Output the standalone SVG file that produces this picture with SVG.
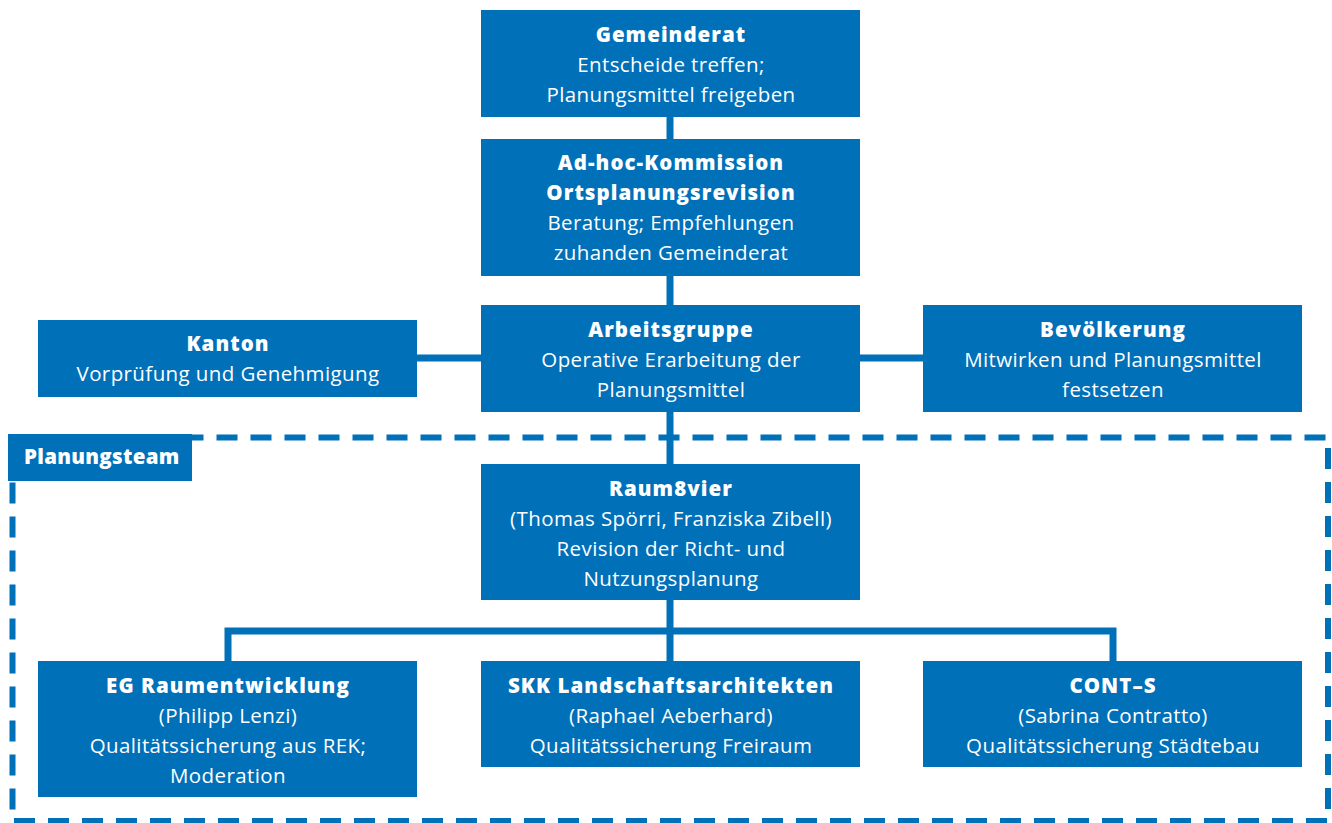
<svg xmlns="http://www.w3.org/2000/svg" width="1332" height="823" viewBox="0 0 1332 823">
  <style>
    .box { fill: #0070B9; }
    .t { fill: #FFFFFF; font-family: "Open Sans", Lato, "Liberation Sans", sans-serif; font-size: 20.5px; letter-spacing: 0.4px; text-anchor: middle; }
    .h { font-weight: 800; letter-spacing: 1.05px; }
    .link { fill: none; stroke: #0070B9; stroke-width: 7; stroke-linejoin: miter; stroke-linecap: butt; }
    .team { fill: none; stroke: #0070B9; stroke-width: 6; stroke-dasharray: 21 13; }
  </style>
  <rect width="1332" height="823" fill="#FFFFFF"/>

  <!-- team frame -->
  <rect class="team" x="12.5" y="437.5" width="1315.5" height="383.5"/>

  <!-- connectors -->
  <g id="connectors">
    <line class="link" x1="670" y1="116" x2="670" y2="140"/>
    <line class="link" x1="670" y1="275" x2="670" y2="306"/>
    <line class="link" x1="416" y1="358" x2="482" y2="358"/>
    <line class="link" x1="859" y1="358" x2="924" y2="358"/>
    <line class="link" x1="670" y1="411" x2="670" y2="465"/>
    <line class="link" x1="670" y1="599" x2="670" y2="662"/>
    <polyline class="link" points="228,662 228,631 1113,631 1113,662"/>
  </g>

  <g id="gemeinderat">
    <rect class="box" x="481" y="10" width="379" height="107"/>
    <text class="t h" x="671" y="42">Gemeinderat</text>
    <text class="t" x="671" y="72">Entscheide treffen;</text>
    <text class="t" x="671" y="102">Planungsmittel freigeben</text>
  </g>

  <g id="kommission">
    <rect class="box" x="481" y="139" width="379" height="137"/>
    <text class="t h" x="671" y="170">Ad-hoc-Kommission</text>
    <text class="t h" x="671" y="200">Ortsplanungsrevision</text>
    <text class="t" x="671" y="230">Beratung; Empfehlungen</text>
    <text class="t" x="671" y="260">zuhanden Gemeinderat</text>
  </g>

  <g id="kanton">
    <rect class="box" x="38" y="320" width="379" height="77"/>
    <text class="t h" x="228" y="351">Kanton</text>
    <text class="t" x="228" y="381">Vorprüfung und Genehmigung</text>
  </g>

  <g id="arbeitsgruppe">
    <rect class="box" x="481" y="305" width="379" height="107"/>
    <text class="t h" x="671" y="337">Arbeitsgruppe</text>
    <text class="t" x="671" y="367">Operative Erarbeitung der</text>
    <text class="t" x="671" y="397">Planungsmittel</text>
  </g>

  <g id="bevoelkerung">
    <rect class="box" x="923" y="305" width="379" height="107"/>
    <text class="t h" x="1113" y="337">Bevölkerung</text>
    <text class="t" x="1113" y="367">Mitwirken und Planungsmittel</text>
    <text class="t" x="1113" y="397">festsetzen</text>
  </g>

  <g id="planungsteam">
    <rect class="box" x="8" y="434" width="184" height="47"/>
    <text class="t h" x="24" y="464" style="text-anchor:start; letter-spacing:0.3px">Planungsteam</text>
  </g>

  <g id="raum8vier">
    <rect class="box" x="481" y="464" width="379" height="136"/>
    <text class="t h" x="671" y="496">Raum8vier</text>
    <text class="t" x="671" y="526">(Thomas Spörri, Franziska Zibell)</text>
    <text class="t" x="671" y="556">Revision der Richt- und</text>
    <text class="t" x="671" y="586">Nutzungsplanung</text>
  </g>

  <g id="eg-raumentwicklung">
    <rect class="box" x="38" y="661" width="379" height="136"/>
    <text class="t h" x="228" y="693">EG Raumentwicklung</text>
    <text class="t" x="228" y="723">(Philipp Lenzi)</text>
    <text class="t" x="228" y="753">Qualitätssicherung aus REK;</text>
    <text class="t" x="228" y="783">Moderation</text>
  </g>

  <g id="skk">
    <rect class="box" x="481" y="661" width="379" height="106"/>
    <text class="t h" x="671" y="693">SKK Landschaftsarchitekten</text>
    <text class="t" x="671" y="723">(Raphael Aeberhard)</text>
    <text class="t" x="671" y="753">Qualitätssicherung Freiraum</text>
  </g>

  <g id="cont-s">
    <rect class="box" x="923" y="661" width="379" height="106"/>
    <text class="t h" x="1113" y="693">CONT–S</text>
    <text class="t" x="1113" y="723">(Sabrina Contratto)</text>
    <text class="t" x="1113" y="753">Qualitätssicherung Städtebau</text>
  </g>
</svg>
